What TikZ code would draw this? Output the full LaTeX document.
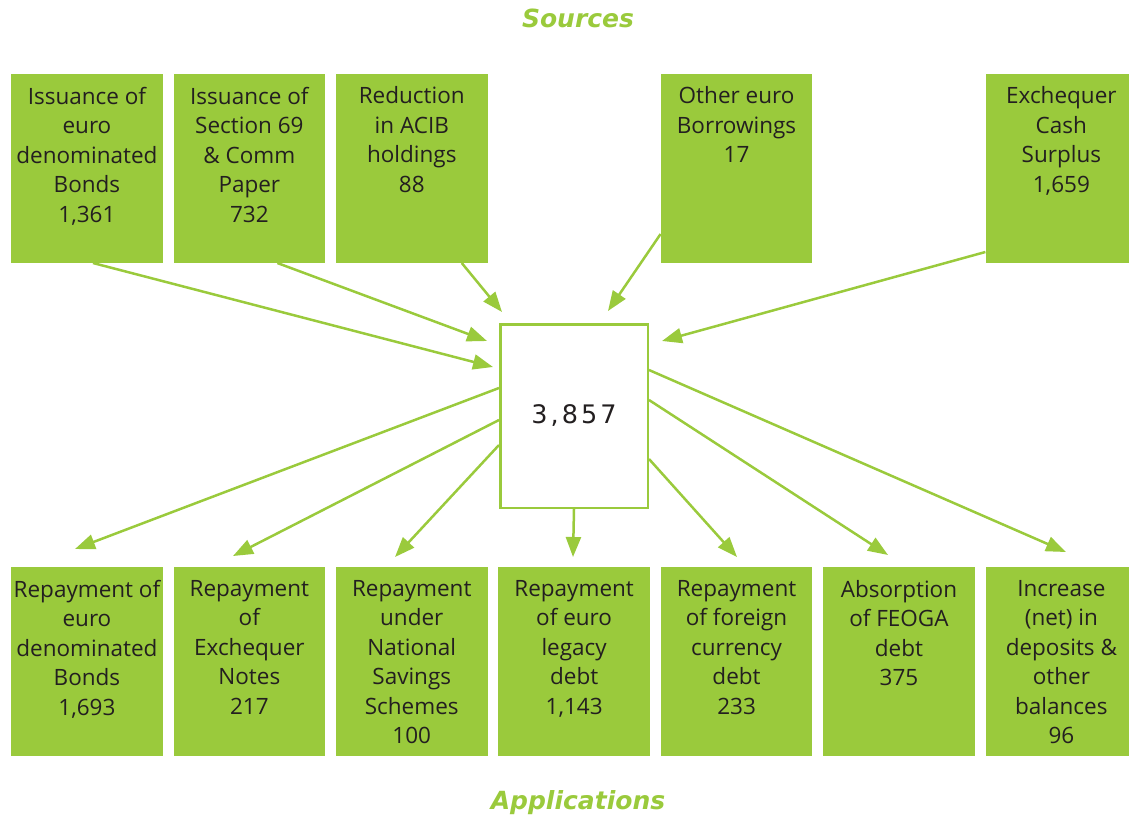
\documentclass[tikz,border=0pt]{standalone}
\usepackage{fontspec}
\setsansfont{Open Sans}
\newfontfamily\numfont{DejaVu Sans}
\usetikzlibrary{arrows.meta,positioning}
\definecolor{Leaf}{HTML}{9ACA3C}
\definecolor{Ink}{HTML}{231F20}

\begin{document}
\begin{tikzpicture}[x=1pt, y=-1pt, node distance=10.5pt,
  cell/.style={fill=Leaf, minimum width=151.5pt, minimum height=189pt,
               inner xsep=-3.25pt, inner ysep=13pt, anchor=north west,
               font=\sffamily\fontsize{22.5}{29.5}\selectfont\color{Ink},
               execute at begin node={\begin{minipage}[c][163pt][t]{158pt}\centering},
               execute at end node={\end{minipage}}},
  total/.style={draw=Leaf, line width=2.5pt, fill=white,
                minimum width=147.5pt, minimum height=183.5pt,
                font=\numfont\addfontfeature{LetterSpace=12}\fontsize{25.5}{30}\selectfont\color{Ink}},
  flow/.style={draw=Leaf, line width=2.5pt, -{Triangle[length=20pt,width=15pt]}},
  head/.style={font=\numfont\bfseries\itshape\fontsize{25}{30}\selectfont\color{Leaf}}]
  \useasboundingbox (0,0) rectangle (1129,818);

  % applications row
  \node[cell] (use1) at (11,567) {Repayment of\\euro\\denominated\\Bonds\\1,693};
  \node[cell, right=of use1] (use2) {Repayment\\of\\Exchequer\\Notes\\217};
  \node[cell, right=of use2] (use3) {Repayment\\under\\National\\Savings\\Schemes\\100};
  \node[cell, right=of use3] (use4) {Repayment\\of euro\\legacy\\debt\\1,143};
  \node[cell, right=of use4] (use5) {Repayment\\of foreign\\currency\\debt\\233};
  \node[cell, right=of use5] (use6) {Absorption\\of FEOGA\\debt\\375};
  \node[cell, right=of use6] (use7) {Increase\\(net) in\\deposits \&\\other\\balances\\96};

  % sources row
  \node[cell, above=304pt of use1] (src1) {Issuance of\\euro\\denominated\\Bonds\\1,361};
  \node[cell, above=304pt of use2] (src2) {Issuance of\\Section 69\\\& Comm\\Paper\\732};
  \node[cell, above=304pt of use3] (src3) {Reduction\\in ACIB\\holdings\\88};
  \node[cell, above=304pt of use5] (src4) {Other euro\\Borrowings\\17};
  \node[cell, above=304pt of use7] (src5) {Exchequer\\Cash\\Surplus\\1,659};

  \node[total] (tot) at (574,416) {3,857};

  \node[head] (hsrc) at (578,18) {Sources};
  \node[head] (huse) at (578,803) {Applications};

  % arrow tips stop short of the boxes
  \coordinate (in1) at (493,367);
  \coordinate (in2) at (487,341);
  \coordinate (in3) at (502,312);
  \coordinate (in4) at (608,311);
  \coordinate (in5) at (662,341);
  \coordinate (out1) at (75,549);
  \coordinate (out2) at (233,556);
  \coordinate (out3) at (395,557);
  \coordinate (out4) at (573,557);
  \coordinate (out5) at (737,557);
  \coordinate (out6) at (888,555);
  \coordinate (out7) at (1066,552);

  \draw[flow] ([xshift=6pt]src1.south) -- (in1);
  \draw[flow] ([xshift=28pt]src2.south) -- (in2);
  \draw[flow] ([xshift=50pt]src3.south) -- (in3);
  \draw[flow] ([yshift=29pt]src4.south west) -- (in4);
  \draw[flow] ([yshift=11pt]src5.south west) -- (in5);

  \draw[flow] ([yshift=28pt]tot.west) -- (out1);
  \draw[flow] ([yshift=-4pt]tot.west) -- (out2);
  \draw[flow] ([yshift=-29pt]tot.west) -- (out3);
  \draw[flow] (tot.south) -- (out4);
  \draw[flow] ([yshift=-43pt]tot.east) -- (out5);
  \draw[flow] ([yshift=16pt]tot.east) -- (out6);
  \draw[flow] ([yshift=46pt]tot.east) -- (out7);
\end{tikzpicture}
\end{document}
